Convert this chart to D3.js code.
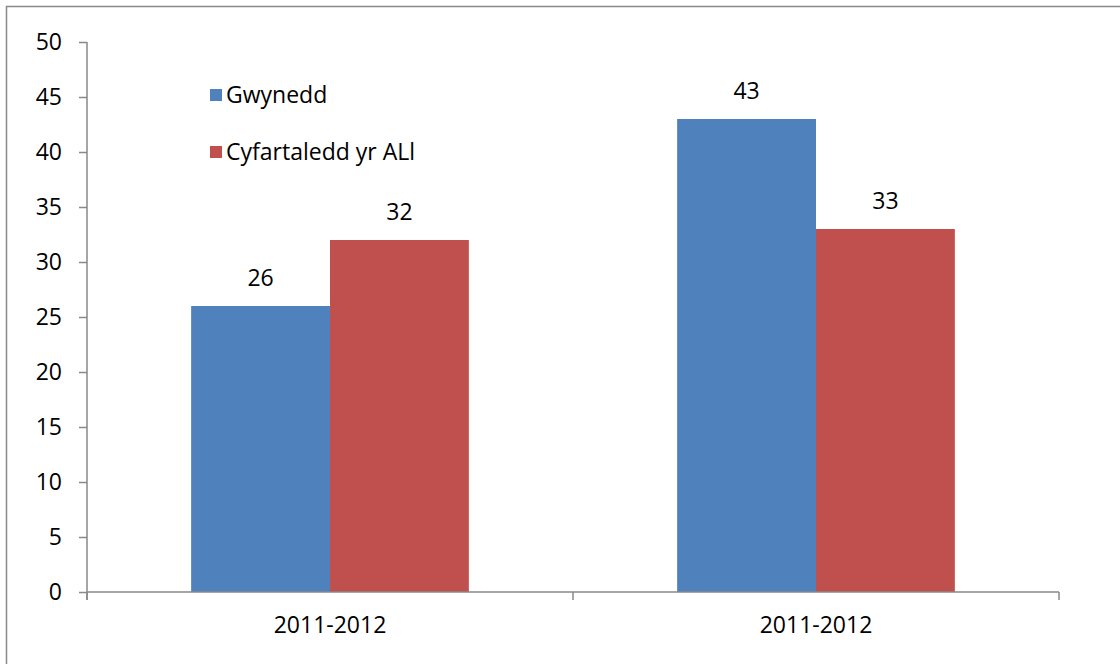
<!DOCTYPE html>
<html>
<head>
<meta charset="utf-8">
<script src="https://cdn.jsdelivr.net/npm/d3@7"></script>
<style>
  body { margin: 0; background: #fff; }
  text { font-family: "Open Sans", sans-serif; fill: #000; }
</style>
</head>
<body>
<div id="chart"></div>
<script>
var categories = ['2011-2012', '2011-2012'];
var seriesNames = ['Gwynedd', 'Cyfartaledd yr ALl'];
var gwynedd = [26, 43];
var cyfartaledd = [32, 33];
var yTicks = [0, 5, 10, 15, 20, 25, 30, 35, 40, 45, 50];

var width = 1120, height = 664;
var plotLeft = 87, plotRight = 1059, plotTop = 42, plotBottom = 592;
var colors = ['#4F81BD', '#C0504D'];
var fontSize = '23px';

var svg = d3.select('#chart').append('svg')
  .attr('width', width)
  .attr('height', height);

// chart frame
svg.append('rect')
  .attr('x', 6.5).attr('y', 6.5)
  .attr('width', 1130).attr('height', 680)
  .style('fill', 'none')
  .style('stroke', '#898989')
  .style('stroke-width', 1.5);

var x = d3.scaleBand()
  .domain(d3.range(categories.length))
  .range([plotLeft, plotRight]);

var inner = d3.scaleBand()
  .domain([0, 1])
  .range([0, x.bandwidth()])
  .paddingOuter(0.75);

var y = d3.scaleLinear()
  .domain([0, 50])
  .range([plotBottom, plotTop]);

var data = categories.map(function(c, i) {
  return { cat: i, values: [gwynedd[i], cyfartaledd[i]] };
});

var groups = svg.selectAll('.group')
  .data(data)
  .enter()
  .append('g')
  .attr('transform', function(d) { return 'translate(' + x(d.cat) + ',0)'; });

groups.selectAll('rect')
  .data(function(d) { return d.values.map(function(v, s) { return { s: s, v: v }; }); })
  .enter()
  .append('rect')
  .attr('x', function(d) { return inner(d.s); })
  .attr('y', function(d) { return y(d.v); })
  .attr('width', inner.bandwidth())
  .attr('height', function(d) { return plotBottom - y(d.v); })
  .style('fill', function(d) { return colors[d.s]; });

groups.selectAll('.val')
  .data(function(d) { return d.values.map(function(v, s) { return { s: s, v: v }; }); })
  .enter()
  .append('text')
  .attr('x', function(d) { return inner(d.s) + inner.bandwidth() / 2; })
  .attr('y', function(d) { return y(d.v) - 20; })
  .attr('text-anchor', 'middle')
  .style('font-size', fontSize)
  .text(function(d) { return d.v; });

// y axis
var yAxis = svg.append('g')
  .attr('transform', 'translate(' + plotLeft + ',0)')
  .call(d3.axisLeft(y).tickValues(yTicks).tickSize(8).tickPadding(17));
yAxis.select('.domain').attr('d', 'M0,' + plotTop + 'V' + (plotBottom + 8));
yAxis.selectAll('line, path').style('stroke', '#898989').style('stroke-width', 1.5);
yAxis.selectAll('text')
  .style('font-size', fontSize)
  .style('font-family', '"Open Sans", sans-serif')
  .attr('fill', '#000');

// x axis
var xAxis = svg.append('g')
  .attr('transform', 'translate(0,' + plotBottom + ')')
  .call(d3.axisBottom(x).tickSize(0).tickPadding(25).tickFormat(function(i) { return categories[i]; }));
xAxis.select('.domain').attr('d', 'M' + plotLeft + ',0H' + plotRight);
xAxis.selectAll('line').remove();
xAxis.selectAll('path').style('stroke', '#898989').style('stroke-width', 1.5);
xAxis.selectAll('text')
  .style('font-size', fontSize)
  .style('font-family', '"Open Sans", sans-serif')
  .attr('fill', '#000');
var xEdges = d3.range(categories.length + 1).map(function(i) { return plotLeft + i * x.bandwidth(); });
xAxis.selectAll('.edge')
  .data(xEdges)
  .enter()
  .append('line')
  .attr('x1', function(d) { return d; })
  .attr('x2', function(d) { return d; })
  .attr('y1', 0).attr('y2', 8)
  .style('stroke', '#898989')
  .style('stroke-width', 1.5);

// legend
var legend = svg.selectAll('.legend')
  .data(seriesNames)
  .enter()
  .append('g')
  .attr('transform', function(d, i) { return 'translate(210,' + (89 + i * 57) + ')'; });
legend.append('rect')
  .attr('width', 12).attr('height', 12)
  .style('fill', function(d, i) { return colors[i]; });
legend.append('text')
  .attr('x', 16).attr('y', 6)
  .attr('dy', '0.35em')
  .style('font-size', fontSize)
  .text(function(d) { return d; });
</script>
</body>
</html>
